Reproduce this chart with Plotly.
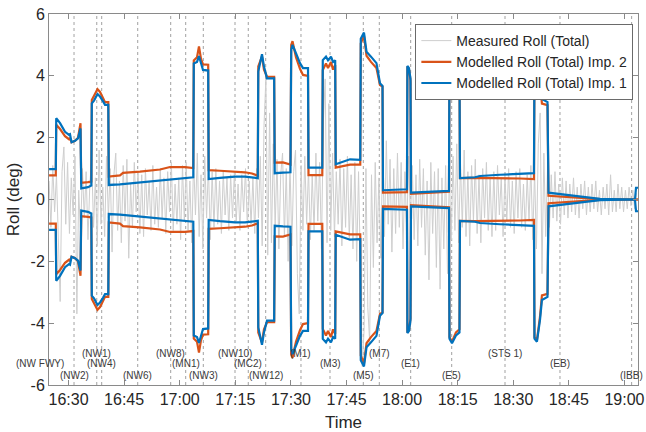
import pandas as pd
import plotly.graph_objects as go

DAY = "2000-01-01 "

# Modelled roll, upper envelope (deg); the lower envelope is its mirror image
model_time = [
    "16:24:45", "16:26:34", "16:26:41", "16:27:43", "16:29:03", "16:30:08", "16:30:24", "16:30:49",
    "16:31:45", "16:32:34", "16:33:14", "16:33:26", "16:35:16", "16:36:09", "16:36:17", "16:36:53",
    "16:37:49", "16:38:30", "16:39:18", "16:39:51", "16:40:44", "16:40:52", "16:43:53", "16:44:42",
    "16:49:17", "16:54:41", "16:57:23", "17:01:26", "17:03:40", "17:03:48", "17:04:40", "17:05:12",
    "17:05:45", "17:06:17", "17:07:41", "17:07:49", "17:10:52", "17:14:55", "17:17:37", "17:19:30",
    "17:21:04", "17:21:12", "17:22:12", "17:22:44", "17:23:33", "17:25:29", "17:25:38", "17:27:52",
    "17:29:53", "17:30:05", "17:30:26", "17:31:22", "17:32:27", "17:33:16", "17:34:37", "17:34:45",
    "17:38:28", "17:38:36", "17:39:28", "17:40:01", "17:40:49", "17:41:22", "17:41:57", "17:42:05",
    "17:45:57", "17:48:43", "17:48:51", "17:49:43", "17:50:24", "17:51:36", "17:53:05", "17:54:02",
    "17:54:43", "17:54:51", "18:01:19", "18:01:26", "18:01:52", "18:02:16", "18:02:24", "18:12:39",
    "18:12:47", "18:13:28", "18:14:32", "18:15:29", "18:15:37", "18:19:40", "18:21:01", "18:26:25",
    "18:31:49", "18:35:35", "18:35:43", "18:36:23", "18:37:12", "18:37:44", "18:39:14", "18:39:30",
    "18:46:39", "18:53:23", "19:02:18", "19:02:50", "19:03:07", "19:03:39",
]
roll_imp1 = [
    0.98, 0.98, 2.63, 2.47, 2.19, 2.09, 2.11, 1.85,
    1.90, 1.98, 2.30, 0.36, 0.40, 0.45, 3.11, 3.20,
    3.41, 3.33, 3.18, 3.06, 3.06, 0.47, 0.49, 0.50,
    0.55, 0.62, 0.66, 0.70, 0.72, 4.40, 4.45, 4.64,
    4.40, 4.19, 4.17, 0.66, 0.70, 0.74, 0.74, 0.72,
    0.69, 4.14, 4.70, 4.30, 3.92, 3.92, 0.85, 0.87,
    0.88, 4.85, 5.00, 4.73, 4.41, 4.25, 4.25, 1.03,
    1.03, 4.51, 4.62, 4.50, 4.62, 4.45, 4.50, 1.14,
    1.30, 1.28, 5.20, 5.40, 4.78, 4.62, 4.41, 3.76,
    3.67, 0.30, 0.33, 4.32, 4.25, 3.90, 0.22, 0.28,
    4.50, 4.65, 4.40, 4.30, 0.69, 0.72, 0.76, 0.80,
    0.82, 0.85, 4.50, 4.60, 3.90, 3.25, 3.15, 0.22,
    0.12, 0.02, 0.00, 0.00, 0.38, 0.38,
]
roll_imp2 = [
    0.78, 0.78, 2.42, 2.28, 2.05, 1.95, 1.98, 1.85,
    1.90, 2.00, 2.47, 0.54, 0.56, 0.58, 3.22, 3.35,
    3.57, 3.48, 3.30, 3.15, 3.15, 0.74, 0.78, 0.86,
    0.90, 0.97, 1.05, 1.05, 1.02, 4.50, 4.60, 4.95,
    4.55, 4.37, 4.36, 0.95, 0.93, 0.90, 0.88, 0.84,
    0.77, 4.30, 4.63, 4.20, 3.97, 3.97, 1.19, 1.20,
    1.13, 5.00, 5.12, 4.60, 4.23, 4.03, 4.00, 0.79,
    0.79, 4.19, 4.40, 4.25, 4.45, 4.20, 4.35, 1.03,
    1.13, 1.13, 5.05, 5.30, 4.65, 4.45, 4.25, 3.70,
    3.65, 0.22, 0.24, 4.30, 4.20, 3.85, 0.18, 0.25,
    4.45, 4.60, 4.30, 4.20, 0.69, 0.70, 0.70, 0.70,
    0.68, 0.66, 4.45, 4.55, 3.80, 3.10, 3.05, 0.12,
    0.07, 0.01, 0.00, 0.00, 0.00, 0.00,
]

# Measured roll, one sample every 30 s from 16:24:45 (deg)
meas_start = "16:24:45"
meas_roll = [
    0.6, -0.9, 1.1, -0.4, 0.8, -1.6, -3.3, 0.9, 1.7, -0.8,
    1.2, -1.1, 0.7, -0.5, 1.4, -3.7, 0.3, -1.2, 1.0, -0.6,
    0.9, -1.3, 0.5, 1.3, -0.9, 0.7, -1.5, 1.6, -0.8, 0.4,
    -1.2, 1.4, -0.6, 1.0, -1.7, 0.8, 1.5, -1.0, 0.6, -1.4,
    1.1, -0.7, 1.3, -1.9, 0.5, -0.9, 1.2, -0.4, 0.9, -1.1,
    0.8, -1.2, 1.0, -0.5, 0.6, -1.0, 1.1, -0.8, 0.4, -0.9,
    1.0, -0.6, 0.7, -1.1, 0.9, -0.4, 1.2, -1.0, 0.5, -0.8,
    0.7, -1.3, 1.1, -0.7, 1.2, -1.0, 0.6, -1.4, 1.3, -0.5,
    1.5, -1.2, 0.8, -1.6, 1.4, -0.6, 1.1, -1.3, 0.9, -0.9,
    1.0, -0.8, 0.6, -1.1, 0.9, -0.5, 0.7, -1.0, 0.8, -0.6,
    0.9, -0.7, 0.5, -1.0, 0.8, -0.4, 1.0, -0.9, 0.6, -0.8,
    0.7, -1.1, 1.0, -0.6, 1.4, -1.5, 2.4, 3.9, -1.8, 2.8,
    -1.4, 1.8, -0.9, 1.3, -1.6, 0.8, 1.5, -1.2, 1.0, -2.0,
    1.2, -1.5, 0.9, 1.6, -2.4, -3.7, 1.1, -1.0, 1.4, -0.8,
    1.0, -1.3, 0.8, -1.0, 1.5, -0.7, 1.2, -1.6, 2.5, 3.9,
    -1.4, 3.1, -1.0, 1.5, -1.2, 0.9, -0.8, 1.3, -1.5, 1.0,
    -0.9, 1.4, -1.3, 0.8, -1.6, 1.2, -2.0, 0.9, -3.0, -5.4,
    -4.2, 1.0, -3.5, -4.6, 0.8, -2.2, 1.2, -1.4, 0.7, -1.9,
    1.6, -1.2, 1.9, -0.8, 1.3, -1.7, 1.0, -1.1, 1.5, -0.9,
    1.2, -1.6, 0.9, -1.0, 1.4, -0.6, 1.1, -1.3, 0.8, -1.5,
    1.3, -0.9, 1.0, -1.8, 0.6, -2.6, 1.2, -1.1, 0.9, -2.2,
    1.0, -2.9, 0.7, -1.6, 1.1, -2.4, 0.8, -1.3, 1.4, -1.0,
    1.8, -1.4, 1.2, -0.9, 1.6, -1.2, 0.9, -1.5, 1.1, -0.7,
    1.3, -1.1, 0.8, -1.4, 1.0, -0.6, 1.2, -1.0, 0.7, -1.2,
    0.9, -1.0, 1.1, -0.5, 0.7, -1.2, 0.8, -0.7, 1.0, -0.9,
    0.6, -1.1, 0.9, -0.6, 1.0, -0.9, 0.5, -1.0, 0.8, -0.7,
    1.1, -1.3, 0.9, -1.6, 1.8, 2.8, -2.4, 1.5, -1.2, 1.0,
    -0.9, 0.8, -0.6, 0.9, -0.7, 0.5, -0.8, 0.7, -0.5, 0.6,
    -0.6, 0.5, -0.4, 0.7, -0.5, 0.4, -0.6, 0.5, -0.3, 0.6,
    -0.5, 0.4, -0.4, 0.5, -0.3, 0.6, -0.4, 0.3, -0.5, 0.4,
    -0.3, 0.5, -0.5, 0.8, -0.4, 0.3, -0.4, 0.5, -0.3, 0.4,
    -0.4, 0.3, -0.3, 0.4, -0.2, 0.3, -0.3, 0.2,
]

# Route events (waypoint passes)
event_names = [
    "(NW FWY)", "(NW2)", "(NW1)", "(NW4)", "(NW6)", "(NW8)", "(MN1)", "(NW3)",
    "(NW10)", "(MC2)", "(NW12)", "(M1)", "(M3)", "(M5)", "(M7)", "(E1)",
    "(E5)", "(STS 1)", "(EB)", "(IBB)",
]
event_time = [
    "16:22:19", "16:31:29", "16:37:37", "16:38:57", "16:48:40", "16:57:34", "17:01:37", "17:06:22",
    "17:14:55", "17:18:30", "17:23:12", "17:32:43", "17:40:33", "17:49:32", "17:53:51", "18:02:19",
    "18:13:23", "18:27:46", "18:42:36", "19:01:56",
]

time_range = ["16:24:44", "19:03:39"]
x_tick_start = "16:30"
y_ticks = [-6, -4, -2, 0, 2, 4, 6]


def ts(s):
    return pd.Timestamp(DAY + s)


t_model = [ts(s) for s in model_time]
t_meas = pd.date_range(ts(meas_start), periods=len(meas_roll), freq="30s")
t0, t1 = ts(time_range[0]), ts(time_range[1])


def mirrored(values):
    xs = t_model + [None] + t_model
    ys = list(values) + [None] + [-v for v in values]
    return xs, ys


FONT = "Liberation Sans, Arial, Helvetica, sans-serif"
TXT = "#262626"
AX = "#8a8a8a"

fig = go.Figure()
fig.add_trace(go.Scatter(
    x=t_meas, y=meas_roll, mode="lines", name="Measured Roll (Total)",
    line=dict(color="rgb(206,206,206)", width=1),
))
x2, y2 = mirrored(roll_imp2)
fig.add_trace(go.Scatter(
    x=x2, y=y2, mode="lines", name="Modelled Roll (Total) Imp. 2",
    line=dict(color="#D95319", width=2.2),
))
x1, y1 = mirrored(roll_imp1)
fig.add_trace(go.Scatter(
    x=x1, y=y1, mode="lines", name="Modelled Roll (Total) Imp. 1",
    line=dict(color="#0072BD", width=2.2),
))

# Dotted event markers and their staggered labels
label_rows = [-4.97, -5.32, -5.68]
span = (t1 - t0).total_seconds()
for i, (name, s) in enumerate(zip(event_names, event_time)):
    t = ts(s)
    fig.add_shape(
        type="line", xref="x", yref="paper", x0=t, x1=t, y0=0, y1=1,
        line=dict(color="rgb(150,150,150)", width=0.9, dash="dot"), layer="below",
    )
    frac = (t - t0).total_seconds() / span
    fig.add_annotation(
        x=frac, xref="paper", y=label_rows[(i + 1) % 3], yref="y",
        text=name, showarrow=False, xanchor="center", yanchor="middle",
        font=dict(family=FONT, size=10, color="#3a3a3a"),
    )

fig.update_layout(
    width=646, height=432,
    margin=dict(l=49, r=8, t=14, b=47, autoexpand=False),
    paper_bgcolor="white", plot_bgcolor="white",
    font=dict(family=FONT, color=TXT),
    showlegend=True,
    legend=dict(
        x=0.622, y=0.973, xanchor="left", yanchor="top",
        bgcolor="white", bordercolor="#6a6a6a", borderwidth=1,
        font=dict(family=FONT, size=14, color=TXT),
        tracegroupgap=0,
    ),
    xaxis=dict(
        type="date", range=[t0, t1], automargin=False,
        tick0=ts(x_tick_start), dtick=15 * 60 * 1000, tickformat="%H:%M",
        ticks="inside", ticklen=5, tickcolor=AX, mirror="ticks",
        showline=True, linecolor=AX, linewidth=1, showgrid=False, zeroline=False,
        tickfont=dict(family=FONT, size=16, color=TXT),
        title=dict(text="Time", font=dict(family=FONT, size=17, color=TXT), standoff=12),
    ),
    yaxis=dict(
        range=[-6, 6], tickvals=y_ticks, ticktext=[str(v) for v in y_ticks], automargin=False,
        ticks="inside", ticklen=5, tickcolor=AX, mirror="ticks",
        showline=True, linecolor=AX, linewidth=1, showgrid=False, zeroline=False,
        tickfont=dict(family=FONT, size=16, color=TXT),
        title=dict(text="Roll (deg)", font=dict(family=FONT, size=17, color=TXT), standoff=6),
    ),
)

fig.write_html("out.html")
